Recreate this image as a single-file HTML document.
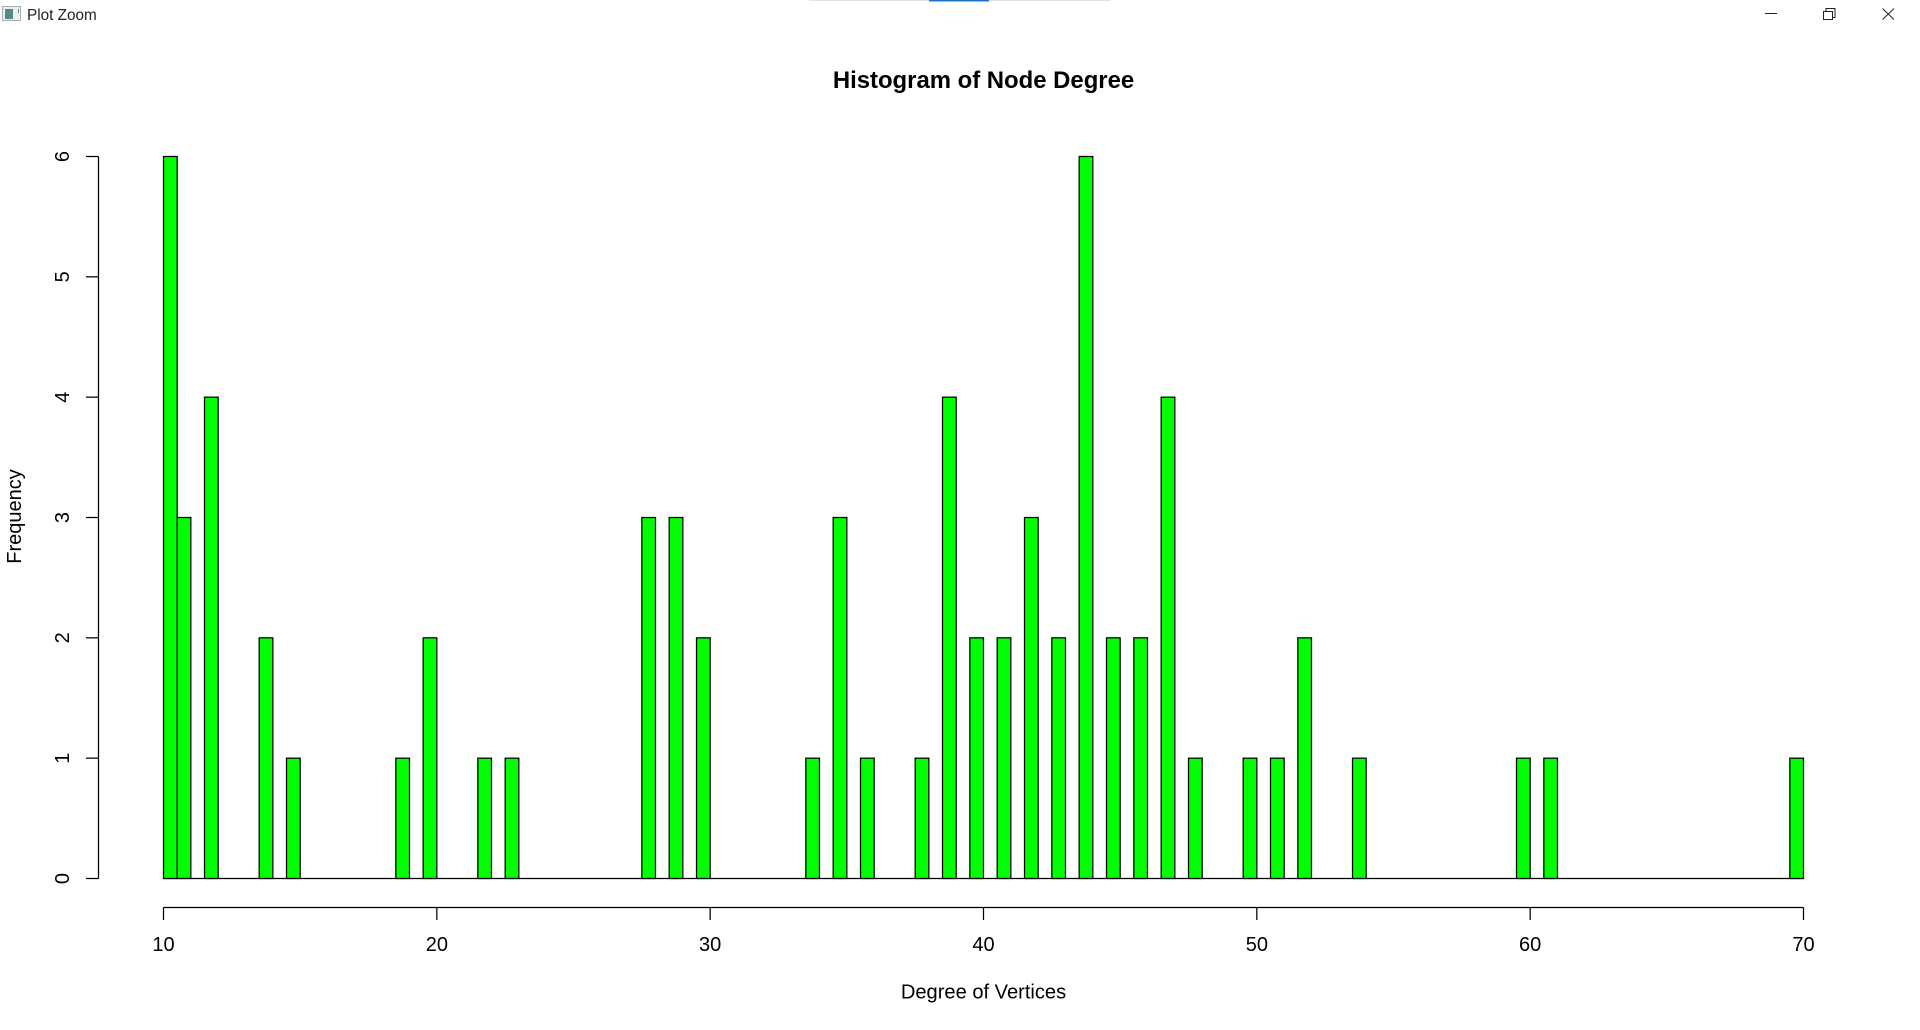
<!DOCTYPE html>
<html lang="en">
<head>
<meta charset="utf-8">
<title>Plot Zoom</title>
<style>
html,body{margin:0;padding:0;background:#fff;width:1920px;height:1030px;overflow:hidden}
svg{display:block;position:absolute;left:0;top:0}
text{font-family:"Liberation Sans",Arial,sans-serif;fill:#000}
</style>
</head>
<body>
<svg id="chart" xmlns="http://www.w3.org/2000/svg" width="1920" height="1030" viewBox="0 0 1920 1030">
  <rect x="0" y="0" width="1920" height="1030" fill="#fff"/>
  <g>
    <rect x="809" y="0" width="301" height="1" fill="#e3e3e3"/>
    <rect x="929" y="0" width="60" height="1.5" fill="#1f74c4"/>
    <g>
      <rect x="2.5" y="6.5" width="18" height="14" fill="#eef1f1" stroke="#a9adad"/>
      <rect x="5" y="9" width="8" height="10" fill="#4f8a8c"/>
      <rect x="18" y="9" width="1" height="4" fill="#5f8f90"/>
    </g>
    <text x="27" y="20" font-size="15.3" fill="#222" style="fill:#222">Plot Zoom</text>
    <line x1="1765" y1="13.5" x2="1777" y2="13.5" stroke="#222" stroke-width="1"/>
    <g fill="none" stroke="#222" stroke-width="1">
      <rect x="1823.5" y="11.5" width="9" height="8"/>
      <path d="M1826 11V8.5H1835V17.5H1832.5"/>
    </g>
    <path d="M1882.5 8.5L1894 19.5M1894 8.5L1882.5 19.5" fill="none" stroke="#222" stroke-width="1"/>
  </g>
  <text x="983.5" y="88" text-anchor="middle" font-size="23.9" font-weight="bold">Histogram of Node Degree</text>
  <text x="983.5" y="998.5" text-anchor="middle" font-size="20.1">Degree of Vertices</text>
  <text transform="translate(21,516.5) rotate(-90)" text-anchor="middle" font-size="20">Frequency</text>
  <g id="bars"></g>
  <g id="xaxis"></g>
  <g id="yaxis"></g>
</svg>
<script>
var degrees = [10,11,12,14,15,19,20,22,23,28,29,30,34,35,36,38,39,40,41,42,43,44,45,46,47,48,50,51,52,54,60,61,70];
var counts  = [6,3,4,2,1,1,2,1,1,3,3,2,1,3,1,1,4,2,2,3,2,6,2,2,4,1,1,1,2,1,1,1,1];
var xTickLabels = [10,20,30,40,50,60,70];
var yTickLabels = [0,1,2,3,4,5,6];
var binWidth = 0.5;

var NS = 'http://www.w3.org/2000/svg';
var STROKE = 1.25;
function sx(v){ return 163.5 + (v - 10) * (1803.5 - 163.5) / 60; }
function sy(v){ return 878.5 - v * (878.5 - 156.5) / 6; }
function make(tag, attrs, parent){
  var el = document.createElementNS(NS, tag);
  for (var k in attrs) el.setAttribute(k, attrs[k]);
  parent.appendChild(el);
  return el;
}

var barsG = document.getElementById('bars');
var xG = document.getElementById('xaxis');
var yG = document.getElementById('yaxis');

var xMin = xTickLabels[0];
var xMax = xTickLabels[xTickLabels.length - 1];

var baseline = make('line', {x1:sx(xMin), y1:sy(0), x2:sx(xMax), y2:sy(0), stroke:'#000', 'stroke-width':STROKE}, barsG);



degrees.forEach(function(d, i){
  var left = d === xMin ? d : d - binWidth;
  var right = d === xMin ? d + binWidth : d;
  var r = make('rect', {x:sx(left), y:sy(counts[i]), width:sx(right) - sx(left), height:sy(0) - sy(counts[i]), fill:'#00ff00', stroke:'#000', 'stroke-width':STROKE}, barsG);
  
  
});

var xLine = make('line', {x1:sx(xMin), y1:907.5, x2:sx(xMax), y2:907.5, stroke:'#000', 'stroke-width':STROKE}, xG);


xTickLabels.forEach(function(t){
  var tick = make('line', {x1:sx(t), y1:907.5, x2:sx(t), y2:920, stroke:'#000', 'stroke-width':STROKE}, xG);
  
  
  var label = make('text', {x:sx(t), y:951, 'text-anchor':'middle', 'font-size':20}, xG);
  
  
  label.textContent = t;
});

var yMin = yTickLabels[0];
var yMax = yTickLabels[yTickLabels.length - 1];
var yLine = make('line', {x1:98.5, y1:sy(yMin), x2:98.5, y2:sy(yMax), stroke:'#000', 'stroke-width':STROKE}, yG);


yTickLabels.forEach(function(t){
  var tick = make('line', {x1:86, y1:sy(t), x2:98.5, y2:sy(t), stroke:'#000', 'stroke-width':STROKE}, yG);
  
  
  var label = make('text', {transform:'translate(69,' + sy(t) + ') rotate(-90)', 'text-anchor':'middle', 'font-size':20}, yG);
  
  
  label.textContent = t;
});
</script>
</body>
</html>
